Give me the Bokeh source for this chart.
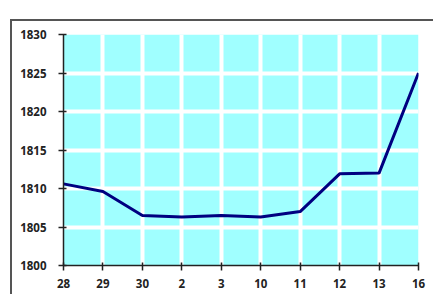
from bokeh.plotting import figure
from bokeh.models import FixedTicker, BoxAnnotation, Range1d, InlineStyleSheet
from bokeh.embed import file_html
from bokeh.resources import INLINE

dates = ["28", "29", "30", "2", "3", "10", "11", "12", "13", "16"]
values = [1810.6, 1809.6, 1806.5, 1806.3, 1806.5, 1806.3, 1807.0, 1811.9, 1812.0, 1825.0]
y_ticks = [1800, 1805, 1810, 1815, 1820, 1825, 1830]

xs = list(range(len(dates)))

W, H = 433, 294
p = figure(width=W, height=H, output_backend="svg", toolbar_location=None,
           x_range=Range1d(0, len(dates) - 1), y_range=Range1d(1800, 1830),
           min_border_left=63, min_border_right=W - 418, min_border_top=34, min_border_bottom=H - 265)
p.outline_line_color = None
p.background_fill_color = "white"
p.stylesheets = [InlineStyleSheet(css="""
:host { position: relative; }
:host::after {
  content: ""; position: absolute; left: 10px; top: 19px; right: -20px; bottom: -20px;
  border-top: 2px solid #555555; border-left: 2px solid #555555;
  z-index: 100; pointer-events: none;
}
""")]

bg = BoxAnnotation(fill_color="#a0ffff", fill_alpha=1.0, line_color=None, level="image")
p.add_layout(bg)

p.line(xs, values, line_color="#000080", line_width=3)

p.xaxis.ticker = FixedTicker(ticks=xs)
p.xaxis.major_label_overrides = {i: d for i, d in enumerate(dates)}
p.yaxis.ticker = FixedTicker(ticks=y_ticks)

for ax in (p.xaxis, p.yaxis):
    ax.axis_line_color = "#222222"
    ax.axis_line_width = 1.5
    ax.major_tick_line_color = "#222222"
    ax.major_tick_line_width = 1.5
    ax.major_tick_in = 3
    ax.major_tick_out = 5
    ax.minor_tick_line_color = None
    ax.major_label_text_font = "Open Sans"
    ax.major_label_text_font_style = "bold"
    ax.major_label_text_font_size = "11.5px"
    ax.major_label_text_color = "#222222"
p.yaxis.major_label_standoff = 12
p.xaxis.major_label_standoff = 8

p.xgrid.grid_line_color = "white"
p.ygrid.grid_line_color = "white"
p.xgrid.grid_line_width = 4
p.ygrid.grid_line_width = 4

open("out.html", "w").write(file_html(p, INLINE))
